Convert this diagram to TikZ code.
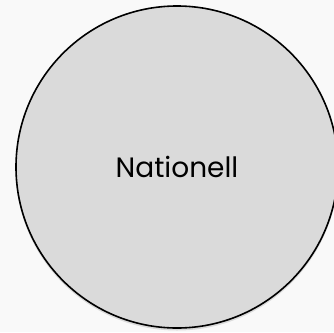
\documentclass[tikz,border=0pt]{standalone}
\usepackage{fontspec}
\setmainfont{Poppins}
\definecolor{bg}{HTML}{F9F9F9}
\definecolor{disc}{HTML}{DADADA}
\begin{document}
\begin{tikzpicture}[x=1pt,y=1pt,
  discstyle/.style={circle,draw=black,line width=1.6pt,fill=disc,minimum size=322pt,inner sep=0pt,font=\fontsize{28}{32}\selectfont}]
\useasboundingbox (0,0) rectangle (334,-332);
\fill[bg] (0,0) rectangle (334,-332);
\fill[black,opacity=0.12] (177,-169) circle (161.5);
\node[discstyle] (nat) at (177,-167) {Nationell};
\end{tikzpicture}
\end{document}
